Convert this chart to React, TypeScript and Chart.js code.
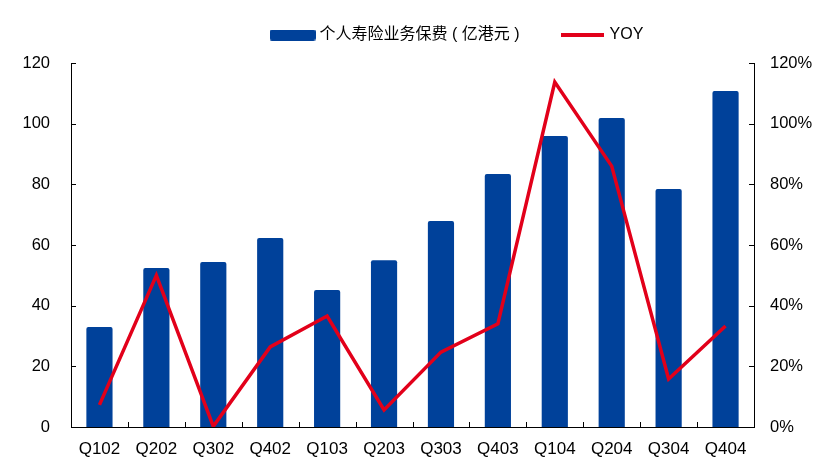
import React, { useEffect, useRef } from "react";
import { Chart, registerables } from "chart.js";

Chart.register(...registerables);

const categories = ["Q102", "Q202", "Q302", "Q402", "Q103", "Q203", "Q303", "Q403", "Q104", "Q204", "Q304", "Q404"];
const premiums = [33.0, 52.4, 54.4, 62.3, 45.2, 55.0, 67.9, 83.4, 95.9, 101.9, 78.5, 110.8];
const yoyPercent = [7.3, 50.0, 0.2, 26.4, 36.6, 5.6, 24.7, 34.0, 113.7, 86.0, 15.8, 33.3];
const leftTicks = [0, 20, 40, 60, 80, 100, 120];
const rightTicks = [0, 20, 40, 60, 80, 100, 120];
const barLabel = "个人寿险业务保费 ( 亿港元 )";
const lineLabel = "YOY";

const FONT = "'Liberation Sans', Arial, 'Noto Sans CJK SC', sans-serif";
const BLUE = "#00419A";
const RED = "#E2001A";

const innerTicks = {
  id: "innerTicks",
  afterDraw(chart: any) {
    const ctx = chart.ctx;
    const x = chart.scales.x;
    const y = chart.scales.y;
    const y1 = chart.scales.y1;
    ctx.save();
    ctx.strokeStyle = "#000";
    ctx.lineWidth = 1;
    ctx.beginPath();
    for (let i = 1; i < categories.length; i++) {
      const px = Math.round(x.getPixelForValue(i - 0.5)) + 0.5;
      ctx.moveTo(px, x.top);
      ctx.lineTo(px, x.top - 5);
    }
    leftTicks.forEach((v) => {
      const py = Math.round(y.getPixelForValue(v)) + 0.5;
      ctx.moveTo(y.right, py);
      ctx.lineTo(y.right + 5, py);
    });
    rightTicks.forEach((v) => {
      const py = Math.round(y1.getPixelForValue(v)) + 0.5;
      ctx.moveTo(y1.left, py);
      ctx.lineTo(y1.left - 5, py);
    });
    ctx.stroke();
    ctx.restore();
  },
};

const legendPlace = {
  id: "legendPlace",
  beforeInit(chart: any) {
    const orig = chart.legend.fit;
    chart.legend.fit = function () {
      orig.call(this);
      this.height = 63;
    };
  },
  afterLayout(chart: any) {
    const lg = chart.legend;
    const dx = 43;
    const dy = -17;
    lg.left += dx;
    lg.right += dx;
    lg.top += dy;
    lg.bottom += dy;
  },
};

function makeRectIcon() {
  const c = document.createElement("canvas");
  c.width = 46;
  c.height = 11;
  const g = c.getContext("2d") as CanvasRenderingContext2D;
  g.fillStyle = BLUE;
  g.beginPath();
  (g as any).roundRect ? (g as any).roundRect(0, 0, 46, 11, 2) : g.rect(0, 0, 46, 11);
  g.fill();
  return c;
}

function makeLineIcon() {
  const c = document.createElement("canvas");
  c.width = 43;
  c.height = 4;
  const g = c.getContext("2d") as CanvasRenderingContext2D;
  g.fillStyle = RED;
  g.fillRect(0, 0, 43, 4);
  return c;
}

export default function App() {
  const ref = useRef<HTMLCanvasElement>(null);
  useEffect(() => {
    const rectIcon = makeRectIcon();
    const lineIcon = makeLineIcon();
    const chart = new Chart(ref.current as HTMLCanvasElement, {
      type: "bar",
      data: {
        labels: categories,
        datasets: [
          {
            type: "line",
            label: lineLabel,
            data: yoyPercent,
            yAxisID: "y1",
            borderColor: RED,
            backgroundColor: RED,
            borderWidth: 3.5,
            pointRadius: 0,
            tension: 0,
          } as any,
          {
            type: "bar",
            label: barLabel,
            data: premiums,
            yAxisID: "y",
            backgroundColor: BLUE,
            borderColor: BLUE,
            borderWidth: 0,
            borderRadius: 2,
            borderSkipped: "bottom",
            categoryPercentage: 1,
            barPercentage: 0.46,
          } as any,
        ],
      },
      options: {
        animation: false,
        responsive: false,
        maintainAspectRatio: false,
        layout: { padding: { left: 0, right: 0, top: 0, bottom: 0 } },
        plugins: {
          tooltip: { enabled: false },
          legend: {
            position: "top",
            labels: {
              usePointStyle: true,
              pointStyleWidth: 38,
              boxHeight: 11,
              padding: 44,
              color: "#000",
              font: { family: FONT, size: 16 },
              sort: (a: any, b: any) => b.datasetIndex - a.datasetIndex,
              generateLabels: (ch: any) => {
                const items = Chart.defaults.plugins.legend.labels.generateLabels(ch);
                items.forEach((it: any) => {
                  it.pointStyle = it.datasetIndex === 1 ? rectIcon : lineIcon;
                });
                return items;
              },
            },
          },
        },
        scales: {
          x: {
            offset: true,
            grid: { display: false, drawTicks: false },
            border: { display: true, color: "#000", width: 1 },
            ticks: { color: "#000", font: { family: FONT, size: 17 }, padding: 12, maxRotation: 0, autoSkip: false },
            afterFit: (s: any) => { s.height = 44; },
          },
          y: {
            position: "left",
            min: 0,
            max: 120,
            grid: { display: false, drawTicks: false },
            border: { display: true, color: "#000", width: 1 },
            ticks: { stepSize: 20, color: "#000", font: { family: FONT, size: 16.5 }, padding: 21 },
            afterFit: (s: any) => { s.width = 71; },
          },
          y1: {
            position: "right",
            min: 0,
            max: 120,
            grid: { display: false, drawTicks: false },
            border: { display: true, color: "#000", width: 1 },
            ticks: {
              stepSize: 20,
              color: "#000",
              font: { family: FONT, size: 16.5 },
              padding: 16,
              callback: (v: any) => v + "%",
            },
            afterFit: (s: any) => { s.width = 831 - 754; },
          },
        },
      } as any,
      plugins: [innerTicks, legendPlace],
    });
    return () => chart.destroy();
  }, []);
  return (
    <div style={{ position: "absolute", left: 0, top: 0, width: 831, height: 471, background: "#fff" }}>
      <canvas ref={ref} width={831} height={471} style={{ width: 831, height: 471 }} />
    </div>
  );
}
